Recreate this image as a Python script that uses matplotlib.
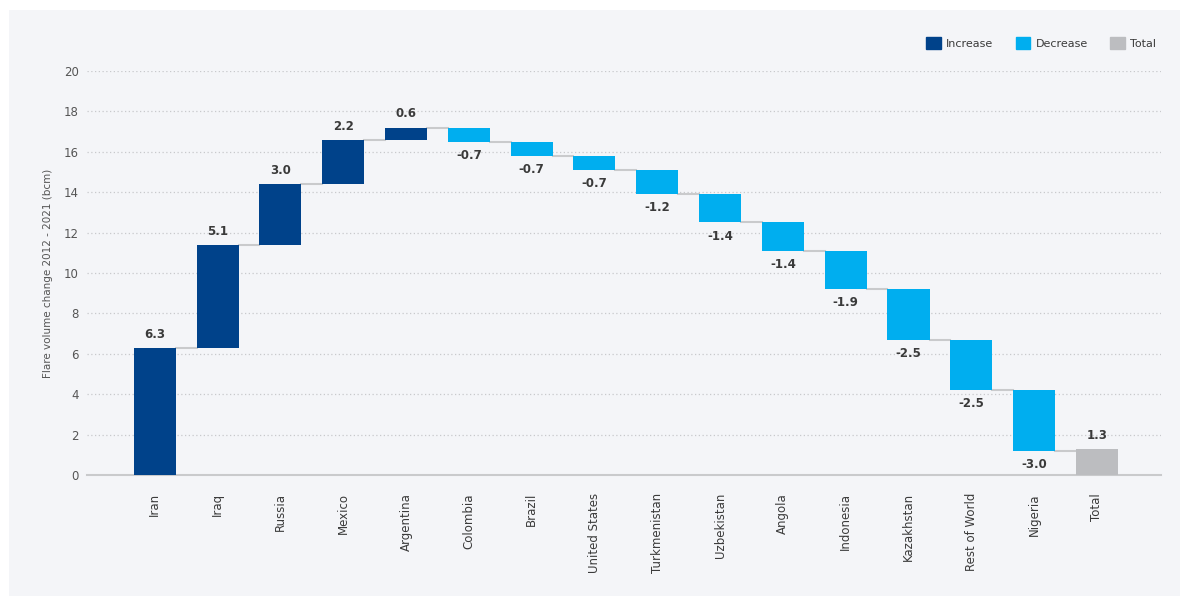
import matplotlib
matplotlib.use("Agg")
import matplotlib.pyplot as plt
from matplotlib.patches import Rectangle, Patch

# flare volume change by country, 2012 - 2021 (bcm)
countries = ["Iran", "Iraq", "Russia", "Mexico", "Argentina", "Colombia", "Brazil",
             "United States", "Turkmenistan", "Uzbekistan", "Angola", "Indonesia",
             "Kazakhstan", "Rest of World", "Nigeria"]
changes = [6.3, 5.1, 3.0, 2.2, 0.6, -0.7, -0.7, -0.7, -1.2, -1.4, -1.4, -1.9,
           -2.5, -2.5, -3.0]
total_label = "Total"
total_value = 1.3

C_INC = "#00428a"
C_DEC = "#00aeef"
C_TOT = "#bcbdc0"
C_CONN = "#c9cacc"
TXT = "#3a3a3a"

fig = plt.figure(figsize=(11.9, 5.98), dpi=100, facecolor="white")
fig.patches.append(Rectangle((9 / 1190, 2 / 598), 1171 / 1190, 586 / 598,
                             transform=fig.transFigure, facecolor="#f4f5f8",
                             edgecolor="none", zorder=-10))
ax = fig.add_axes([0.0731, 0.2057, 0.9025, 0.6756])
ax.set_facecolor("none")

w = 0.67
running = 0.0
tops = []
for i, v in enumerate(changes):
    start = running
    running = start + v
    color = C_INC if v >= 0 else C_DEC
    ax.bar(i, v, bottom=start, width=w, color=color, zorder=3)
    if v >= 0:
        ax.text(i, running + 0.35, f"{v:.1f}", ha="center", va="bottom",
                fontsize=8.5, fontweight="bold", color=TXT)
    else:
        ax.text(i, running - 0.35, f"{v:.1f}", ha="center", va="top",
                fontsize=8.5, fontweight="bold", color=TXT)
    tops.append(running)

n = len(changes)
ax.bar(n, total_value, width=w, color=C_TOT, zorder=3)
ax.text(n, total_value + 0.35, f"{total_value:.1f}", ha="center", va="bottom",
        fontsize=8.5, fontweight="bold", color=TXT)

# connector lines between bars
for i, t in enumerate(tops):
    ax.plot([i + w / 2, i + 1 - w / 2], [t, t], color=C_CONN, lw=1.5, zorder=2)

ax.set_xlim(-1.08, n + 1.02)
ax.set_ylim(0, 20)
ax.set_yticks(range(0, 21, 2))
ax.set_xticks(range(n + 1))
ax.set_xticklabels(countries + [total_label], rotation=90, fontsize=8.5, color=TXT)
ax.tick_params(axis="y", labelsize=8.5, labelcolor="#555555", length=0, pad=6)
ax.tick_params(axis="x", length=0, pad=13)
for s in ["top", "right", "left"]:
    ax.spines[s].set_visible(False)
ax.spines["bottom"].set_color("#c9cacc")
ax.spines["bottom"].set_linewidth(1.5)
ax.grid(axis="y", linestyle=(0, (1, 2)), color="#c8c9cc", lw=0.9, zorder=0)
for gl in ax.get_ygridlines()[:1]:
    gl.set_visible(False)
ax.set_ylabel("Flare volume change 2012 - 2021 (bcm)", fontsize=7.5,
              color="#555555", labelpad=8)

handles = [Patch(color=C_INC, label="Increase"), Patch(color=C_DEC, label="Decrease"),
           Patch(color=C_TOT, label="Total")]
fig.legend(handles=handles, loc="center right", bbox_to_anchor=(0.98, 0.928),
           ncol=3, frameon=False, fontsize=8, handlelength=1.3, handleheight=1.3,
           columnspacing=2.0, handletextpad=0.5, labelcolor=TXT)

fig.savefig("out.png", dpi=100, facecolor="white")
